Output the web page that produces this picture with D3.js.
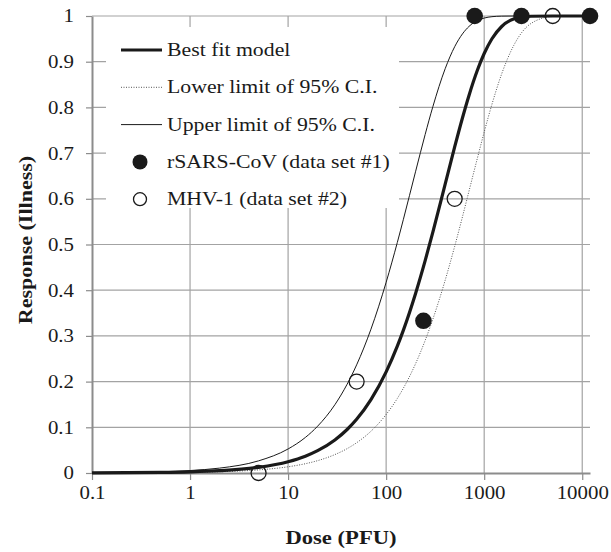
<!DOCTYPE html>
<html>
<head>
<meta charset="utf-8">
<script src="https://cdn.jsdelivr.net/npm/d3@7"></script>
<style>
  body { margin: 0; background: #fff; }
  svg text { font-family: "Liberation Serif", "Times New Roman", serif; fill: #1a1a1a; }
</style>
</head>
<body>
<div class="chart"></div>
<script>
var width = 611, height = 552;
var margin = {top: 16, right: 21, bottom: 79, left: 92};

// dose grid (PFU) used for the three model curves
var doses = [0.1, 0.5, 1, 2, 5, 10, 15, 20, 30, 40, 50, 70, 100, 130, 150, 200, 250, 300, 400, 500, 600, 700, 850, 1000, 1200, 1500, 2000, 3000, 5000, 12000];
var bestFit = [0.0003, 0.0013, 0.0025, 0.005, 0.0124, 0.0247, 0.0368, 0.0488, 0.0723, 0.0952, 0.1175, 0.1605, 0.2212, 0.2775, 0.3127, 0.3935, 0.4647, 0.5276, 0.6321, 0.7135, 0.7769, 0.8262, 0.8806, 0.9179, 0.9502, 0.9765, 0.9933, 0.9994, 1, 1];
var upperCI = [0.0005, 0.0027, 0.0054, 0.0107, 0.0266, 0.0526, 0.0778, 0.1024, 0.1494, 0.1943, 0.2366, 0.3147, 0.4173, 0.5044, 0.5552, 0.6604, 0.7408, 0.8021, 0.8847, 0.9328, 0.9608, 0.9772, 0.9899, 0.9955, 0.9985, 0.9997, 1, 1, 1, 1];
var lowerCI = [0.0001, 0.0007, 0.0014, 0.0027, 0.0068, 0.0136, 0.0203, 0.027, 0.0403, 0.0533, 0.0662, 0.0914, 0.128, 0.1631, 0.1857, 0.2396, 0.29, 0.3371, 0.4218, 0.4959, 0.5604, 0.6169, 0.6879, 0.7459, 0.8068, 0.872, 0.9354, 0.9836, 0.9989, 1];

// observed data
var sarsDose = [240, 800, 2400, 12000];
var sarsResp = [0.333, 1, 1, 1];
var mhvDose = [5, 50, 500, 5000];
var mhvResp = [0, 0.2, 0.6, 1];

var xTicks = [0.1, 1, 10, 100, 1000, 10000];
var yTicks = [0, 0.1, 0.2, 0.3, 0.4, 0.5, 0.6, 0.7, 0.8, 0.9, 1];

var legendLabels = ["Best fit model", "Lower limit of 95% C.I.", "Upper limit of 95% C.I.", "rSARS-CoV (data set #1)", "MHV-1 (data set #2)"];

var stretch = 1.16; // glyphs in the source are a little wider than the font

var svg = d3.select(".chart").append("svg")
  .attr("width", width)
  .attr("height", height);

var x = d3.scaleLog()
  .domain([0.1, 12000])
  .range([margin.left, width - margin.right]);
var y = d3.scaleLinear()
  .domain([0, 1])
  .range([height - margin.bottom, margin.top]);

var gridColor = "#a3a3a3";

// grid
svg.append("g").selectAll("line")
  .data(yTicks.filter(function(d) { return d > 0; }))
  .enter().append("line")
  .attr("x1", x(0.1)).attr("x2", width - margin.right)
  .attr("y1", function(d) { return y(d); }).attr("y2", function(d) { return y(d); })
  .attr("stroke", gridColor).attr("stroke-width", 1.2);
svg.append("g").selectAll("line")
  .data(xTicks.filter(function(d) { return d > 0.1; }))
  .enter().append("line")
  .attr("x1", function(d) { return x(d); }).attr("x2", function(d) { return x(d); })
  .attr("y1", y(1)).attr("y2", y(0))
  .attr("stroke", gridColor).attr("stroke-width", 1.2);

// axes
var yAxis = svg.append("g")
  .attr("transform", "translate(" + x(0.1) + ",0)")
  .call(d3.axisLeft(y).tickValues(yTicks).tickSize(6).tickSizeOuter(0).tickPadding(0)
    .tickFormat(function(d) { return String(+d.toFixed(1)); }));
var xAxis = svg.append("g")
  .attr("transform", "translate(0," + y(0) + ")")
  .call(d3.axisBottom(x).tickValues(xTicks).tickSize(7).tickSizeOuter(0).tickPadding(0)
    .tickFormat(function(d) { return d >= 1 ? d3.format("d")(d) : "0.1"; }));

[yAxis, xAxis].forEach(function(ax) {
  ax.select(".domain").attr("stroke", "#8c8c8c").attr("stroke-width", 2);
  ax.selectAll(".tick line").attr("stroke", "#8c8c8c").attr("stroke-width", 1.2);
  ax.selectAll("text").attr("font-size", 18).attr("fill", "#1a1a1a")
    .style("font-family", '"Liberation Serif", "Times New Roman", serif');
});
yAxis.selectAll(".tick text")
  .attr("x", -18 / stretch).attr("dy", "0.33em")
  .attr("transform", "scale(" + stretch + ",1)");
xAxis.selectAll(".tick text")
  .attr("x", 0).attr("y", 26).attr("dy", 0)
  .attr("transform", "scale(" + stretch + ",1)");

// legend backdrop hides grid behind it
svg.append("rect")
  .attr("x", 106).attr("y", 27).attr("width", 293).attr("height", 181)
  .attr("fill", "#fff");

// curves
var line = d3.line()
  .x(function(d) { return x(d[0]); })
  .y(function(d) { return y(d[1]); })
  .curve(d3.curveMonotoneX);

function pairs(vals) { return doses.map(function(d, i) { return [d, vals[i]]; }); }

svg.append("path").datum(pairs(lowerCI))
  .attr("d", line).attr("fill", "none")
  .attr("stroke", "#555").attr("stroke-width", 1).attr("stroke-dasharray", "1,1.5");
svg.append("path").datum(pairs(upperCI))
  .attr("d", line).attr("fill", "none")
  .attr("stroke", "#1a1a1a").attr("stroke-width", 1);
svg.append("path").datum(pairs(bestFit))
  .attr("d", line).attr("fill", "none")
  .attr("stroke", "#1a1a1a").attr("stroke-width", 3.2);

// data points
svg.append("g").selectAll("circle")
  .data(mhvDose.map(function(d, i) { return [d, mhvResp[i]]; }))
  .enter().append("circle")
  .attr("cx", function(d) { return x(d[0]); })
  .attr("cy", function(d) { return y(d[1]); })
  .attr("r", 7.5)
  .attr("fill", "none").attr("stroke", "#1a1a1a").attr("stroke-width", 1.3);
svg.append("g").selectAll("circle")
  .data(sarsDose.map(function(d, i) { return [d, sarsResp[i]]; }))
  .enter().append("circle")
  .attr("cx", function(d) { return x(d[0]); })
  .attr("cy", function(d) { return y(d[1]); })
  .attr("r", 8.3)
  .attr("fill", "#1a1a1a");

// legend
var legend = svg.append("g").attr("transform", "translate(121,50)");
var rowH = 37.3;
legendLabels.forEach(function(lab, i) {
  var g = legend.append("g").attr("transform", "translate(0," + (i * rowH) + ")");
  if (i === 0) g.append("line").attr("x1", 0).attr("x2", 41).attr("stroke", "#1a1a1a").attr("stroke-width", 3.2);
  if (i === 1) g.append("line").attr("x1", 0).attr("x2", 41).attr("stroke", "#555").attr("stroke-width", 1).attr("stroke-dasharray", "1,1.5");
  if (i === 2) g.append("line").attr("x1", 0).attr("x2", 41).attr("stroke", "#1a1a1a").attr("stroke-width", 1);
  if (i === 3) g.append("circle").attr("cx", 19).attr("r", 7.5).attr("fill", "#1a1a1a");
  if (i === 4) g.append("circle").attr("cx", 19).attr("r", 6.5).attr("fill", "none").attr("stroke", "#1a1a1a").attr("stroke-width", 1.3);
  g.append("text")
    .attr("transform", "translate(46,0) scale(1.21,1)")
    .attr("dy", "0.33em")
    .attr("font-size", 18)
    .text(lab);
});

// axis titles
svg.append("text")
  .attr("transform", "translate(341,544) scale(" + stretch + ",1)")
  .attr("text-anchor", "middle")
  .attr("font-size", 19.5).attr("font-weight", "bold")
  .text("Dose (PFU)");
svg.append("text")
  .attr("transform", "translate(32,240) rotate(-90) scale(" + stretch + ",1)")
  .attr("text-anchor", "middle")
  .attr("font-size", 19).attr("font-weight", "bold")
  .text("Response (Illness)");
</script>
</body>
</html>
